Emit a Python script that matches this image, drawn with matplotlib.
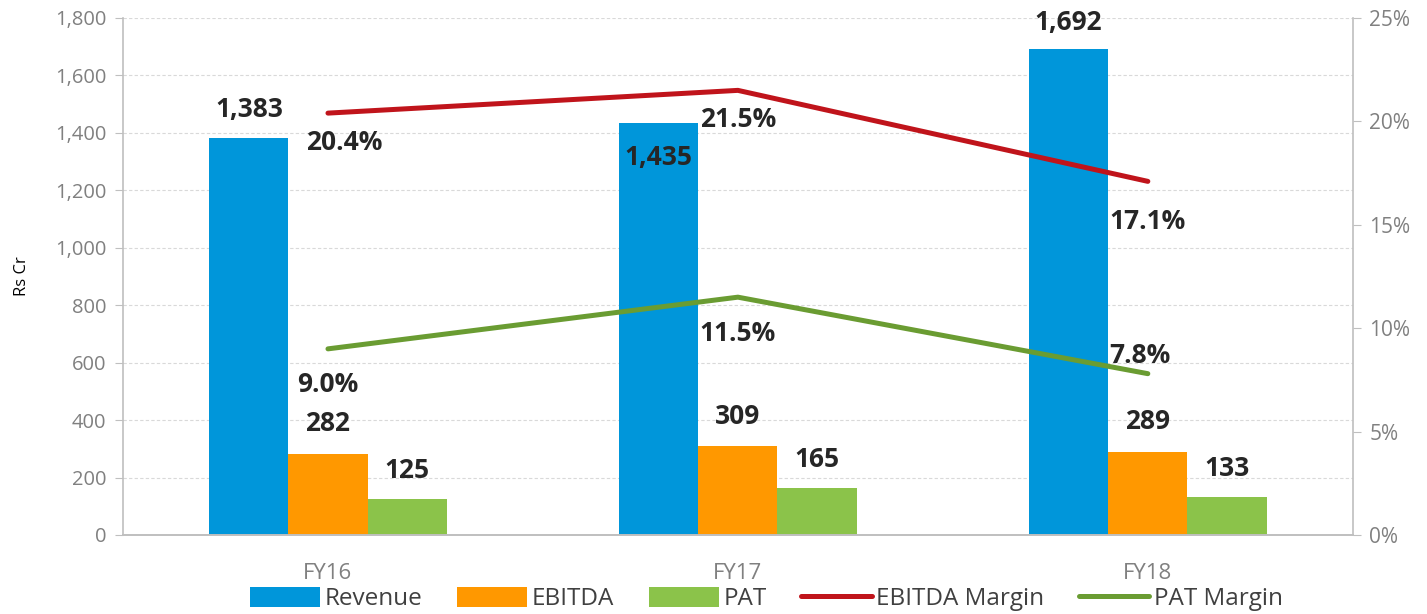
import matplotlib.pyplot as plt
import numpy as np
from matplotlib.ticker import FuncFormatter

plt.rcParams['font.family'] = ['Open Sans', 'DejaVu Sans']

# --- data ---
years = ["FY16", "FY17", "FY18"]
revenue = [1383, 1435, 1692]
ebitda = [282, 309, 289]
pat = [125, 165, 133]
ebitda_margin = [20.4, 21.5, 17.1]
pat_margin = [9.0, 11.5, 7.8]

c_rev = "#0096DA"
c_ebitda = "#FF9800"
c_pat = "#8BC34A"
c_em = "#C0141B"
c_pm = "#6A9C32"
grey = "#808080"
spine = "#BFBFBF"
lbl = "#262626"

fig = plt.figure(figsize=(14.27, 6.14), dpi=100)
ax = fig.add_axes([0.0862, 0.1287, 0.8618, 0.842])
ax2 = ax.twinx()

x = np.arange(len(years))
w = 0.193
ax.bar(x - w, revenue, w, color=c_rev, label="Revenue", zorder=2)
ax.bar(x, ebitda, w, color=c_ebitda, label="EBITDA", zorder=2)
ax.bar(x + w, pat, w, color=c_pat, label="PAT", zorder=2)

ax2.plot(x, ebitda_margin, color=c_em, lw=3.6, label="EBITDA Margin", solid_capstyle="round")
ax2.plot(x, pat_margin, color=c_pm, lw=3.6, label="PAT Margin", solid_capstyle="round")

ax.set_xlim(-0.5, 2.5)
ax.set_ylim(0, 1800)
ax.set_yticks(range(0, 1801, 200))
ax.yaxis.set_major_formatter(FuncFormatter(lambda v, p: f"{int(v):,}"))
ax2.set_ylim(0, 25)
ax2.set_yticks(range(0, 26, 5))
ax2.yaxis.set_major_formatter(FuncFormatter(lambda v, p: f"{int(v)}%"))

ax.set_xticks(x)
ax.set_xticklabels(years)
ax.tick_params(axis="x", length=0, pad=20, labelsize=16, labelcolor=grey)
ax.tick_params(axis="y", length=6, color=spine, labelsize=14.5, labelcolor=grey, pad=6)
ax2.tick_params(axis="y", length=6, color=spine, labelsize=15, labelcolor=grey, pad=6)

ax.grid(axis="y", color="#D9D9D9", linestyle=(0, (3, 2)), lw=0.8, zorder=0)
ax.set_axisbelow(True)
for a in (ax, ax2):
    a.spines["top"].set_visible(False)
    for s in ("left", "right", "bottom"):
        a.spines[s].set_color(spine)
        a.spines[s].set_linewidth(1.2)
ax2.spines["left"].set_visible(False)
ax.spines["right"].set_visible(False)

ax.set_ylabel("Rs Cr", fontsize=12, color="black", labelpad=18)

# --- value labels ---
bold = dict(fontsize=19, fontweight="bold", color=lbl, ha="center", va="center")
rev_lbl = [(x[0] - w, 1480), (x[1] - w, 1313), (x[2] - w, 1786)]
for (px, py), v in zip(rev_lbl, revenue):
    ax.text(px, py, f"{v:,}", **bold)
for i, v in enumerate(ebitda):
    ax.text(x[i], v + 105, f"{v}", **bold)
for i, v in enumerate(pat):
    ax.text(x[i] + w, v + 98, f"{v}", **bold)

em_lbl = [(x[0] + 0.04, 19.0), (x[1], 20.07), (x[2], 15.18)]
for (px, py), v in zip(em_lbl, ebitda_margin):
    ax2.text(px, py, f"{v:.1f}%", **bold)
pm_lbl = [(x[0], 7.30), (x[1], 9.72), (x[2] - 0.02, 8.70)]
for (px, py), v in zip(pm_lbl, pat_margin):
    ax2.text(px, py, f"{v:.1f}%", **bold)

h1, l1 = ax.get_legend_handles_labels()
h2, l2 = ax2.get_legend_handles_labels()
fig.legend(h1 + h2, l1 + l2, loc="center", bbox_to_anchor=(0.537, 0.024), ncol=5,
           frameon=False, fontsize=17.5, handlelength=2.9, handleheight=0.85,
           columnspacing=1.4, handletextpad=0.2, labelcolor="#404040")

fig.savefig("out.png", dpi=100)
